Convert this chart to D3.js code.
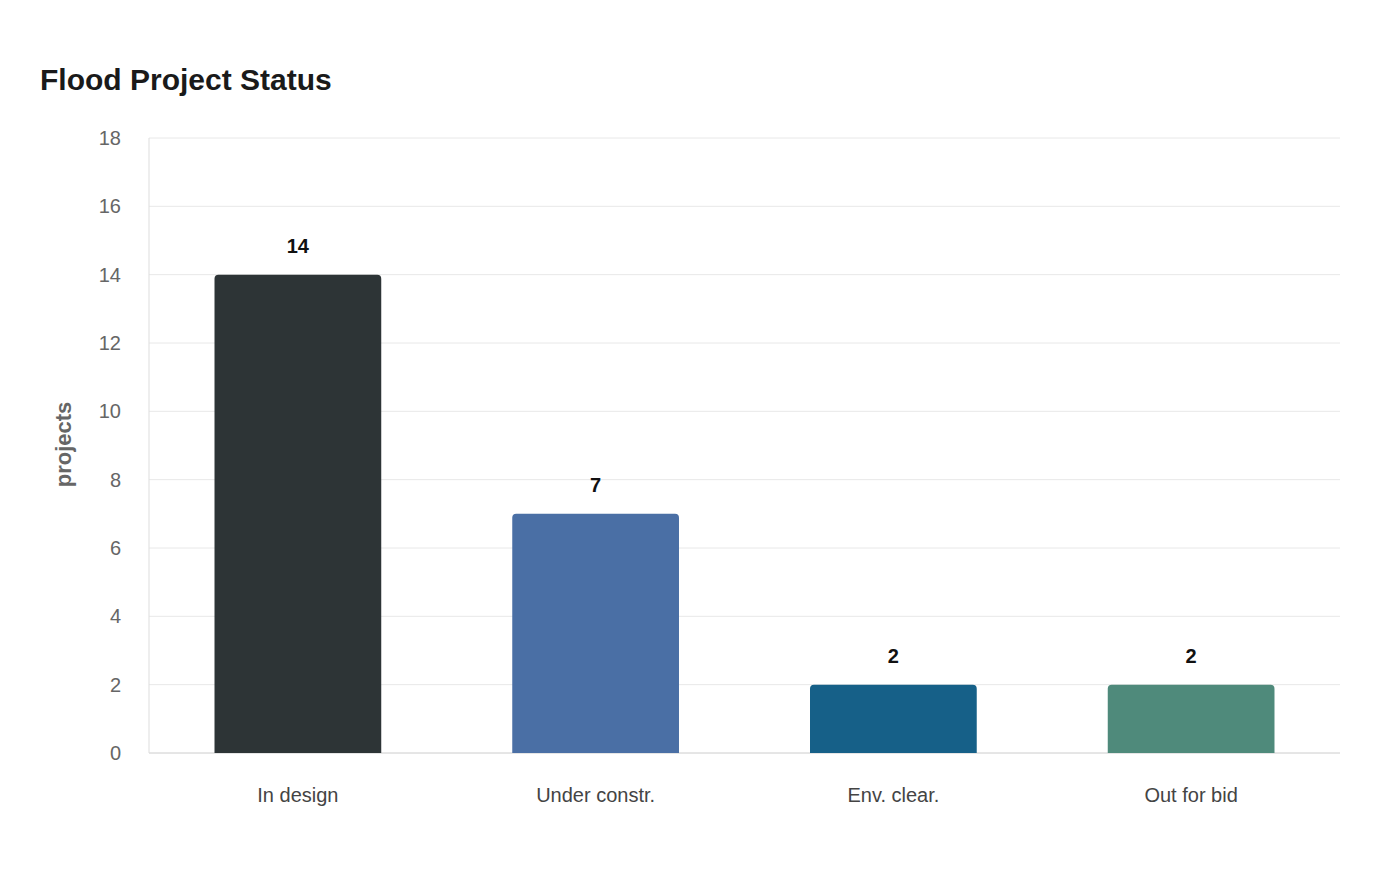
<!DOCTYPE html>
<html><head><meta charset="utf-8">
<script src="https://cdn.jsdelivr.net/npm/d3@7"></script>
<style>body{margin:0;background:#fff;font-family:"Liberation Sans",Arial,sans-serif}</style>
</head><body><svg id="c" width="1400" height="880"></svg>
<script>
const categories = ["In design","Under constr.","Env. clear.","Out for bid"];
const values = [14,7,2,2];
const colors = ["#2d3436","#4a6fa5","#166088","#4f8a7b"];
const yTicks = [0,2,4,6,8,10,12,14,16,18];

const svg = d3.select("#c");
const L=149,R=1340,T=138,B=753;
const x = d3.scaleBand().domain(categories).range([L,R]).paddingInner(0.44).paddingOuter(0.22);
const y = d3.scaleLinear().domain([0,18]).range([B,T]);

svg.append("text").attr("x",40).attr("y",90).text("Flood Project Status")
  .attr("font-size",30).attr("font-weight","bold").attr("fill","#1a1a1a");

const g = svg.append("g");
g.selectAll("line.grid").data(yTicks).join("line").attr("class","grid")
  .attr("x1",L).attr("x2",R).attr("y1",d=>y(d)).attr("y2",d=>y(d))
  .attr("stroke",d=>d===0?"#ccc":"#e8e8e8").attr("stroke-width",1);
g.append("line").attr("x1",L).attr("x2",L).attr("y1",T).attr("y2",B).attr("stroke","#ddd");
g.selectAll("text.yt").data(yTicks).join("text").attr("class","yt")
  .attr("x",121).attr("y",d=>y(d)).attr("dy","0.35em").attr("text-anchor","end")
  .attr("font-size",20).attr("fill","#666").text(d=>d);
svg.append("text").attr("transform",`translate(71,${(T+B)/2-1}) rotate(-90)`)
  .attr("text-anchor","middle").attr("font-size",22).attr("font-weight","bold").attr("fill","#666").text("projects");

const r=4;
g.selectAll("path.bar").data(categories).join("path").attr("class","bar")
  .attr("fill",(d,i)=>colors[i])
  .attr("d",(d,i)=>{const x0=x(d),w=x.bandwidth(),y0=y(values[i]);
    return `M${x0},${B}V${y0+r}Q${x0},${y0} ${x0+r},${y0}H${x0+w-r}Q${x0+w},${y0} ${x0+w},${y0+r}V${B}Z`;});
g.selectAll("text.v").data(categories).join("text").attr("class","v")
  .attr("x",d=>x(d)+x.bandwidth()/2).attr("y",(d,i)=>y(values[i])-22)
  .attr("text-anchor","middle").attr("font-size",20).attr("font-weight","bold").attr("fill","#111")
  .text((d,i)=>values[i]);
g.selectAll("text.c").data(categories).join("text").attr("class","c")
  .attr("x",d=>x(d)+x.bandwidth()/2).attr("y",802)
  .attr("text-anchor","middle").attr("font-size",20).attr("fill","#444").text(d=>d);
</script></body></html>
